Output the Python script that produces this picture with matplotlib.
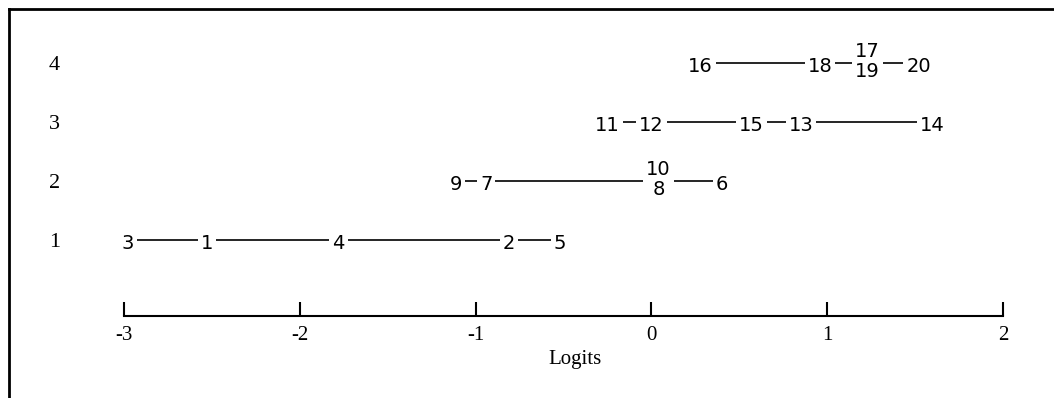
import matplotlib
matplotlib.use("Agg")
import matplotlib.pyplot as plt
from matplotlib.lines import Line2D

# item locations on the logit scale, one list per level
levels = [1, 2, 3, 4]
level_labels = ["1", "2", "3", "4"]

row1_items = ["3", "1", "4", "2", "5"]
row1_logits = [-2.98, -2.53, -1.78, -0.81, -0.52]
row2_items = ["9", "7", "10", "8", "6"]
row2_logits = [-1.11, -0.94, 0.04, 0.04, 0.40]
row3_items = ["11", "12", "15", "13", "14"]
row3_logits = [-0.25, 0.0, 0.57, 0.85, 1.60]
row4_items = ["16", "18", "17", "19", "20"]
row4_logits = [0.28, 0.96, 1.23, 1.23, 1.52]

ticks = [-3, -2, -1, 0, 1, 2]
tick_labels = ["-3", "-2", "-1", "0", "1", "2"]

W, H = 1054, 398
fig = plt.figure(figsize=(W / 100, H / 100), dpi=100)
# axes box in pixels: x from 124 to 1003, y from 316 (axis line) up to 20
ax = fig.add_axes([124 / W, 1 - 316 / H, (1003 - 124) / W, (316 - 20) / H])
ax.set_xlim(-3, 2)
ax.set_ylim(-0.288, 4.73)

serif = ["Liberation Serif", "DejaVu Serif"]
sans = ["DejaVu Sans"]

rows = [(row1_items, row1_logits), (row2_items, row2_logits),
        (row3_items, row3_logits), (row4_items, row4_logits)]

box = dict(boxstyle="square,pad=0.15", fc="white", ec="none")
for lev, (items, logits) in zip(levels, rows):
    ax.plot([min(logits), max(logits)], [lev, lev], color="black", lw=1.2, zorder=1)
    # items sharing a logit are stacked one above the other
    seen = {}
    for lab, v in zip(items, logits):
        seen.setdefault(v, []).append(lab)
    for v, labs in seen.items():
        if len(labs) == 1:
            ax.text(v, lev - 0.03, labs[0], ha="center", va="center_baseline",
                    fontsize=14, family=sans, bbox=box, zorder=3)
        else:
            ax.text(v, lev + 0.03, "\n".join(labs), ha="center", va="center",
                    multialignment="center", linespacing=1.1,
                    fontsize=14, family=sans, bbox=box, zorder=3)

for s in ["left", "top", "right"]:
    ax.spines[s].set_visible(False)
ax.spines["bottom"].set_linewidth(1.5)

ax.set_xticks(ticks)
ax.set_xticklabels(tick_labels, family=serif, fontsize=15)
ax.tick_params(axis="x", direction="in", length=10, width=1.5, pad=7)

ax.set_yticks(levels)
ax.set_yticklabels(level_labels, family=serif, fontsize=16)
ax.tick_params(axis="y", length=0, pad=46)

ax.set_xlabel("Logits", family=serif, fontsize=15, labelpad=8)
ax.xaxis.set_label_coords(0.513, -0.115)

# frame lines along the left and top edge
fig.add_artist(Line2D([9 / W, 9 / W], [0, 1 - 9 / H], color="black", lw=2))
fig.add_artist(Line2D([9 / W, 1], [1 - 9 / H, 1 - 9 / H], color="black", lw=2))

fig.savefig("out.png", dpi=100)
